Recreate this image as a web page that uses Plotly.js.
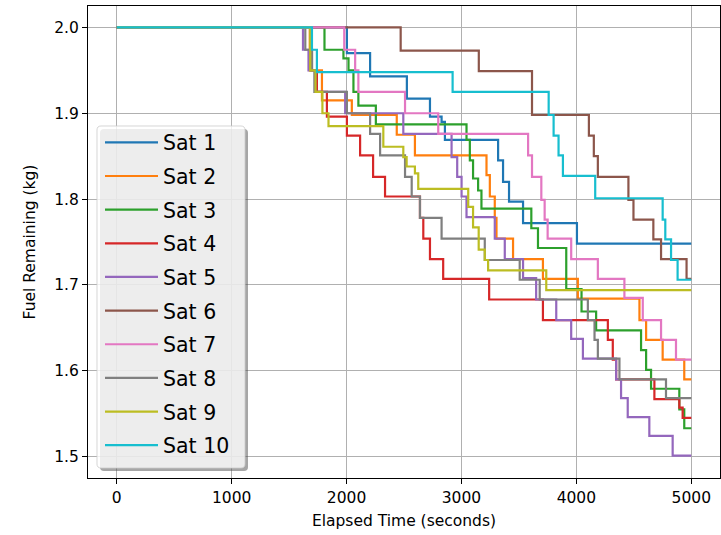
<!DOCTYPE html>
<html>
<head>
<meta charset="utf-8">
<script src="https://cdn.plot.ly/plotly-3.0.1.min.js"></script>
<style>
html,body{margin:0;padding:0;background:#fff;}
#chart{width:721px;height:535px;}
</style>
</head>
<body>
<div id="chart"></div>
<script>
// ---- data ----
const satNames = ['Sat 1','Sat 2','Sat 3','Sat 4','Sat 5','Sat 6','Sat 7','Sat 8','Sat 9','Sat 10'];

const sat1Time = [0, 2003, 2205, 2525, 2726, 2827, 2856, 3319, 3362, 3414, 3536, 4005, 5000];
const sat1Fuel = [2.000, 1.970, 1.943, 1.917, 1.896, 1.890, 1.869, 1.845, 1.820, 1.797, 1.772, 1.748, 1.748];

const sat2Time = [0, 1680, 1786, 2046, 2437, 2595, 3218, 3247, 3290, 3305, 3449, 3709, 4013, 4549, 4607, 4751, 4939, 5000];
const sat2Fuel = [2.000, 1.950, 1.915, 1.898, 1.875, 1.851, 1.828, 1.803, 1.778, 1.754, 1.730, 1.707, 1.684, 1.659, 1.636, 1.613, 1.590, 1.590];

const sat3Time = [0, 1808, 1973, 2017, 2060, 2103, 2255, 3044, 3073, 3101, 3145, 3174, 3608, 3666, 3912, 4045, 4172, 4563, 4607, 4650, 4896, 4939, 5000];
const sat3Fuel = [2.000, 1.974, 1.964, 1.950, 1.925, 1.909, 1.887, 1.869, 1.845, 1.824, 1.810, 1.789, 1.766, 1.743, 1.695, 1.669, 1.647, 1.624, 1.601, 1.579, 1.555, 1.533, 1.533];

const sat4Time = [0, 1690, 1742, 1829, 2003, 2118, 2231, 2335, 2639, 2668, 2726, 2841, 3241, 3709, 4274, 4317, 4346, 4679, 4896, 4925, 5000];
const sat4Fuel = [2.000, 1.950, 1.925, 1.896, 1.874, 1.851, 1.826, 1.803, 1.778, 1.754, 1.730, 1.707, 1.683, 1.659, 1.636, 1.613, 1.590, 1.567, 1.557, 1.545, 1.545];

const sat5Time = [0, 1621, 1669, 1727, 1988, 2494, 2914, 2963, 3001, 3044, 3290, 3377, 3536, 3650, 3825, 3955, 4057, 4346, 4389, 4447, 4635, 4838, 5000];
const sat5Fuel = [2.000, 1.974, 1.950, 1.925, 1.900, 1.876, 1.849, 1.826, 1.803, 1.779, 1.754, 1.730, 1.708, 1.683, 1.659, 1.637, 1.614, 1.590, 1.568, 1.546, 1.524, 1.501, 1.501];

const sat6Time = [0, 2471, 3151, 3614, 4109, 4152, 4187, 4453, 4497, 4670, 4737, 4959, 5000];
const sat6Fuel = [2.000, 1.973, 1.949, 1.898, 1.874, 1.850, 1.826, 1.799, 1.776, 1.753, 1.730, 1.707, 1.707];

const sat7Time = [0, 1980, 2075, 2103, 2509, 2798, 3580, 3614, 3695, 3724, 3750, 3955, 4187, 4418, 4578, 4737, 4867, 5000];
const sat7Fuel = [2.000, 1.974, 1.950, 1.925, 1.900, 1.876, 1.851, 1.826, 1.799, 1.776, 1.754, 1.730, 1.707, 1.685, 1.659, 1.636, 1.613, 1.613];

const sat8Time = [0, 1641, 1700, 1720, 2003, 2205, 2292, 2509, 2567, 2639, 2827, 3203, 3507, 3681, 4100, 4158, 4187, 4375, 4780, 5000];
const sat8Fuel = [2.000, 1.974, 1.950, 1.925, 1.900, 1.876, 1.851, 1.826, 1.803, 1.778, 1.754, 1.729, 1.706, 1.683, 1.659, 1.636, 1.614, 1.590, 1.568, 1.568];

const sat9Time = [0, 1684, 1730, 1790, 1843, 2320, 2494, 2523, 2595, 2624, 3059, 3101, 3150, 3203, 3232, 3738, 5000];
const sat9Fuel = [2.000, 1.950, 1.925, 1.900, 1.885, 1.861, 1.849, 1.838, 1.830, 1.812, 1.791, 1.767, 1.741, 1.729, 1.717, 1.694, 1.694];

const sat10Time = [0, 1699, 1742, 2923, 3759, 3802, 3845, 3883, 4164, 4751, 4774, 4824, 4881, 5000];
const sat10Fuel = [2.000, 1.974, 1.948, 1.925, 1.898, 1.874, 1.851, 1.827, 1.801, 1.776, 1.753, 1.729, 1.706, 1.706];

const xTickVals = [0, 1000, 2000, 3000, 4000, 5000];
const xTickText = ['0', '1000', '2000', '3000', '4000', '5000'];
const yTickVals = [1.5, 1.6, 1.7, 1.8, 1.9, 2.0];
const yTickText = ['1.5', '1.6', '1.7', '1.8', '1.9', '2.0'];

// ---- styling ----
const satTimes = [sat1Time, sat2Time, sat3Time, sat4Time, sat5Time, sat6Time, sat7Time, sat8Time, sat9Time, sat10Time];
const satFuels = [sat1Fuel, sat2Fuel, sat3Fuel, sat4Fuel, sat5Fuel, sat6Fuel, sat7Fuel, sat8Fuel, sat9Fuel, sat10Fuel];
const colors = ['#1f77b4','#ff7f0e','#2ca02c','#d62728','#9467bd','#8c564b','#e377c2','#7f7f7f','#bcbd22','#17becf'];

const W = 721, H = 535;
const M = {l: 88, r: 1, t: 6, b: 57};
const PW = W - M.l - M.r, PH = H - M.t - M.b;
const px2x = px => (px - M.l) / PW;
const px2y = py => (H - M.b - py) / PH;

function roundRectPath(x0, y0, x1, y1, r) {
  const P = (x, y) => px2x(x).toFixed(5) + ',' + px2y(y).toFixed(5);
  return 'M' + P(x0 + r, y0) +
    ' L' + P(x1 - r, y0) + ' Q' + P(x1, y0) + ' ' + P(x1, y0 + r) +
    ' L' + P(x1, y1 - r) + ' Q' + P(x1, y1) + ' ' + P(x1 - r, y1) +
    ' L' + P(x0 + r, y1) + ' Q' + P(x0, y1) + ' ' + P(x0, y1 - r) +
    ' L' + P(x0, y0 + r) + ' Q' + P(x0, y0) + ' ' + P(x0 + r, y0) + ' Z';
}

const font = 'DejaVu Sans, Verdana, sans-serif';

const traces = satNames.map((name, i) => ({
  type: 'scatter',
  mode: 'lines',
  name: name,
  x: satTimes[i],
  y: satFuels[i],
  legendgroup: 'g' + i,
  line: {color: colors[i], width: 2.2, shape: 'hv'},
  hoverinfo: 'skip'
}));

const box = {x0: 97, y0: 126, x1: 245, y1: 468};

const layout = {
  width: W, height: H,
  margin: M,
  paper_bgcolor: '#ffffff',
  plot_bgcolor: '#ffffff',
  font: {family: font, color: '#000000', size: 15.5},
  showlegend: true,
  legend: {
    x: px2x(100), y: px2y(122.5), xanchor: 'left', yanchor: 'top',
    bgcolor: 'rgba(0,0,0,0)', borderwidth: 0,
    font: {family: font, size: 20.5, color: '#000000'},
    itemwidth: 53,
    tracegroupgap: 4,
    traceorder: 'grouped'
  },
  xaxis: {
    range: [-250, 5250],
    tickvals: xTickVals, ticktext: xTickText,
    ticks: 'outside', ticklen: 5, tickwidth: 1, tickcolor: '#000',
    showline: true, mirror: true, linecolor: '#000', linewidth: 1,
    showgrid: true, gridcolor: '#b0b0b0', gridwidth: 1,
    zeroline: false,
    tickfont: {family: font, size: 15.5, color: '#000'},
    title: {text: 'Elapsed Time (seconds)', font: {family: font, size: 15.5, color: '#000'}, standoff: 9}
  },
  yaxis: {
    range: [1.475, 2.025],
    tickvals: yTickVals, ticktext: yTickText,
    ticks: 'outside', ticklen: 5, tickwidth: 1, tickcolor: '#000',
    showline: true, mirror: true, linecolor: '#000', linewidth: 1,
    showgrid: true, gridcolor: '#b0b0b0', gridwidth: 1,
    zeroline: false,
    tickfont: {family: font, size: 15.5, color: '#000'},
    title: {text: 'Fuel Remaining (kg)', font: {family: font, size: 15.5, color: '#000'}, standoff: 14}
  },
  shapes: [
    {type: 'path', xref: 'paper', yref: 'paper', layer: 'above',
     path: roundRectPath(box.x0 + 3, box.y0 + 3, box.x1 + 3, box.y1 + 3, 4),
     fillcolor: 'rgba(77,77,77,0.5)', line: {width: 0}},
    {type: 'path', xref: 'paper', yref: 'paper', layer: 'above',
     path: roundRectPath(box.x0, box.y0, box.x1, box.y1, 4),
     fillcolor: 'rgba(255,255,255,0.8)', line: {color: 'rgba(204,204,204,0.8)', width: 1}}
  ]
};

Plotly.newPlot('chart', traces, layout, {staticPlot: true, displayModeBar: false});
</script>
</body>
</html>
